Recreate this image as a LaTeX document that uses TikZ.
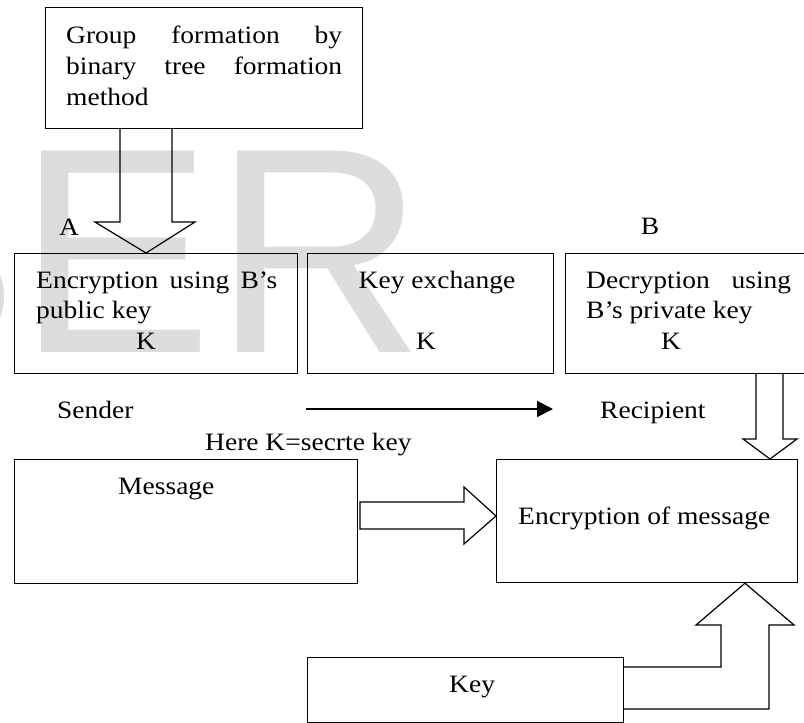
\documentclass[tikz,border=0pt]{standalone}
\usepackage{fontspec}
\setmainfont[FakeStretch=1.1]{Liberation Serif}
\newfontfamily\wmfont{Liberation Sans}
\usetikzlibrary{arrows.meta}
\definecolor{wmgray}{RGB}{221,221,221}
\begin{document}
\begin{tikzpicture}[x=1pt,y=-1pt,
  box/.style={draw, line width=1.2pt, inner sep=0pt, anchor=north west},
  txt/.style={inner sep=0pt, anchor=base west, font=\fontsize{25}{30}\selectfont},
  ctxt/.style={txt, anchor=base},
  barrow/.style={draw, line width=1.2pt, line join=miter},
  wm/.style={inner sep=0pt, anchor=base west, text=wmgray, font=\wmfont\fontsize{293}{293}\selectfont}]
\useasboundingbox (0,0) rectangle (804,723);
% watermark
\node[wm] (wmark) at (-178,352) {SER};
% boxes
\node[box, minimum width=317pt, minimum height=121pt] (grp) at (45,7) {};
\node[box, minimum width=283pt, minimum height=120pt] (enc) at (14,253) {};
\node[box, minimum width=246pt, minimum height=120pt] (kex) at (307,253) {};
\node[box, minimum width=245pt, minimum height=120pt] (dec) at (565,253) {};
\node[box, minimum width=343pt, minimum height=124pt] (msg) at (14,459) {};
\node[box, minimum width=301pt, minimum height=123pt] (encm) at (496,459) {};
\node[box, minimum width=316pt, minimum height=64.5pt] (keyb) at (307,657) {};
% texts
\node[txt] (g1) at (66,43) {\makebox[276pt][s]{Group formation by}};
\node[txt] (g2) at (66,74) {\makebox[276pt][s]{binary tree formation}};
\node[txt] (g3) at (66,105) {method};
\node[ctxt] (lA) at (69,235) {A};
\node[ctxt] (lB) at (650,234) {B};
\node[txt] (e1) at (36,288) {\makebox[241pt][s]{Encryption using B’s}};
\node[txt] (e2) at (36,318) {public key};
\node[ctxt] (e3) at (146,349) {K};
\node[ctxt] (k1) at (437,288) {Key exchange};
\node[ctxt] (k2) at (426,349) {K};
\node[txt] (d1) at (586,288) {\makebox[205pt][s]{Decryption using}};
\node[txt] (d2) at (586,318) {B’s private key};
\node[ctxt] (d3) at (671,349) {K};
\node[txt] (snd) at (57,418) {Sender};
\node[txt] (rcp) at (600,418) {Recipient};
\node[txt] (here) at (205,450) {Here K=secrte key};
\node[txt] (msgt) at (118,494) {Message};
\node[txt] (encmt) at (518,524) {Encryption of message};
\node[txt] (keyt) at (449,692) {Key};
% thin arrow sender -> recipient
\coordinate (arrS) at (306,409);
\coordinate (arrE) at (553,409);
\draw[line width=1.8pt, -{Triangle[length=16pt,width=16pt]}] (arrS) -- (arrE);
% block arrows
\draw[barrow] (grp.south -| 120,0) -- (120,222) -- (95,222) -- (146,253) -- (195,222) -- (172,222) -- (grp.south -| 172,0);
\draw[barrow] (dec.south -| 756,0) -- (756,439) -- (743,439) -- (770,459) -- (797,439) -- (783,439) -- (dec.south -| 783,0);
\draw[barrow] (360,502) -- (464,502) -- (464,487) -- (encm.west |- 0,516) -- (464,544) -- (464,529) -- (360,529) -- cycle;
\draw[barrow] (keyb.east |- 0,667) -- (721,667) -- (721,625) -- (696,625) -- (encm.south -| 745,0) -- (794,625) -- (769,625) -- (769,709) -- (keyb.east |- 0,709);
\end{tikzpicture}
\end{document}
